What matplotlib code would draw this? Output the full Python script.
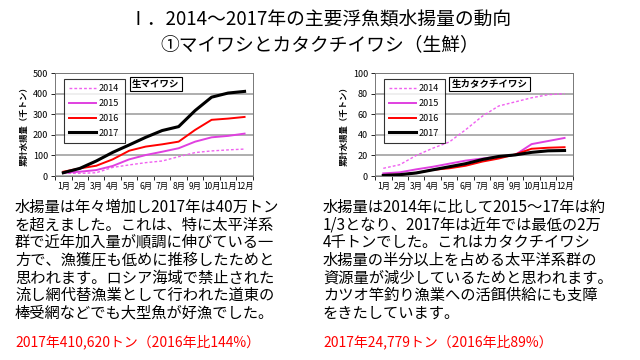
import numpy as np
import matplotlib
matplotlib.use('Agg')
import matplotlib.pyplot as plt

plt.rcParams['font.family'] = ['Noto Sans CJK JP', 'DejaVu Sans']

months = ['1月', '2月', '3月', '4月', '5月', '6月', '7月', '8月', '9月', '10月', '11月', '12月']
years = ['2014', '2015', '2016', '2017']

# cumulative landings (thousand tons)
maiwashi = {
    '2014': [13, 13, 16, 42, 54, 65, 73, 94, 114, 122, 127, 131],
    '2015': [16, 21, 29, 49, 81, 102, 118, 135, 167, 188, 195, 206],
    '2016': [21, 37, 50, 81, 123, 143, 154, 167, 224, 273, 279, 287],
    '2017': [16, 37, 73, 115, 151, 188, 221, 240, 318, 383, 403, 411],
}
katakuchi = {
    '2014': [7.5, 11, 20, 27, 33, 45, 58, 68, 72, 76, 79, 80],
    '2015': [2.6, 3.6, 6.5, 9, 12, 15, 17, 19, 20.5, 31, 34, 37],
    '2016': [1.0, 1.3, 3, 6, 7.5, 10, 14, 17, 21, 26.5, 27.5, 28],
    '2017': [0.6, 1.3, 3, 6, 9, 12, 16, 19, 20.5, 23, 24.5, 24.8],
}

title1 = 'Ⅰ．2014～2017年の主要浮魚類水揚量の動向'
title2 = '①マイワシとカタクチイワシ（生鮮）'

left_lines = [
    '水揚量は年々増加し2017年は40万トン',
    'を超えました。これは、特に太平洋系',
    '群で近年加入量が順調に伸びている一',
    '方で、漁獲圧も低めに推移したためと',
    '思われます。ロシア海域で禁止された',
    '流し網代替漁業として行われた道東の',
    '棒受網などでも大型魚が好漁でした。',
]
left_red = '2017年410,620トン（2016年比144%）'
right_lines = [
    '水揚量は2014年に比して2015～17年は約',
    '1/3となり、2017年は近年では最低の2万',
    '4千トンでした。これはカタクチイワシ',
    '水揚量の半分以上を占める太平洋系群の',
    '資源量が減少しているためと思われます。',
    'カツオ竿釣り漁業への活餌供給にも支障',
    'をきたしています。',
]
right_red = '2017年24,779トン（2016年比89%）'

styles = {
    '2014': dict(color='#f060f0', lw=1.0, ls=(0, (2, 1.5))),
    '2015': dict(color='#e040e0', lw=1.4, ls='-'),
    '2016': dict(color='#ff0000', lw=1.4, ls='-'),
    '2017': dict(color='#000000', lw=2.2, ls='-'),
}

fig = plt.figure(figsize=(6.4, 3.6), dpi=100)

def draw_chart(rect, data, ymax, label, label_x):
    ax = fig.add_axes(rect)
    x = np.arange(len(months))
    for y in years:
        ax.plot(x, data[y], label=y, **styles[y])
    ax.set_xlim(-0.5, 11.5)
    ax.set_ylim(0, ymax)
    ax.set_yticks(np.linspace(0, ymax, 6))
    ax.set_xticks(x)
    ax.set_xticklabels(months)
    ax.set_xticks(np.arange(-0.5, 12, 1), minor=True)
    ax.tick_params(axis='x', which='major', length=0, labelsize=6, pad=4)
    ax.tick_params(axis='x', which='minor', length=3, direction='out', width=0.6)
    ax.tick_params(axis='y', length=3, direction='out', width=0.6, labelsize=6.5, pad=2)
    ax.yaxis.grid(True, color='#a8a8a8', lw=1.3)
    ax.set_axisbelow(True)
    for s in ax.spines.values():
        s.set_color('#777777')
        s.set_linewidth(0.7)
    ax.set_ylabel('累計水揚量（千トン）', fontsize=6, fontweight='bold', labelpad=3)
    leg = ax.legend(loc='upper left', bbox_to_anchor=(0.02, 0.99), fontsize=6.5,
                    frameon=True, fancybox=False, edgecolor='black',
                    handlelength=3.0, handletextpad=0.3, borderpad=0.6,
                    labelspacing=0.65, markerfirst=True)
    leg.get_frame().set_linewidth(0.8)
    ax.text(label_x, 0.895, label, transform=ax.transAxes, ha='center', va='center',
            fontsize=6.8, fontweight='bold',
            bbox=dict(boxstyle='square,pad=0.25', fc='white', ec='black', lw=0.8))
    return ax

draw_chart([0.086, 0.511, 0.309, 0.286], maiwashi, 500, '生マイワシ', 0.51)
draw_chart([0.586, 0.511, 0.309, 0.286], katakuchi, 100, '生カタクチイワシ', 0.58)

fig.text(0.5, 1 - 20 / 360, title1, ha='center', va='center', fontsize=13.5)
fig.text(0.5, 1 - 45 / 360, title2, ha='center', va='center', fontsize=13.5)

line_h = 17.7
for i, s in enumerate(left_lines):
    fig.text(15 / 640, 1 - (207 + i * line_h) / 360, s, ha='left', va='center', fontsize=11.0)
fig.text(15 / 640, 1 - 342 / 360, left_red, ha='left', va='center', fontsize=10, color='red')
for i, s in enumerate(right_lines):
    fig.text(323 / 640, 1 - (207 + i * line_h) / 360, s, ha='left', va='center', fontsize=11.0)
fig.text(323 / 640, 1 - 342 / 360, right_red, ha='left', va='center', fontsize=10, color='red')

fig.savefig('out.png', dpi=100)
